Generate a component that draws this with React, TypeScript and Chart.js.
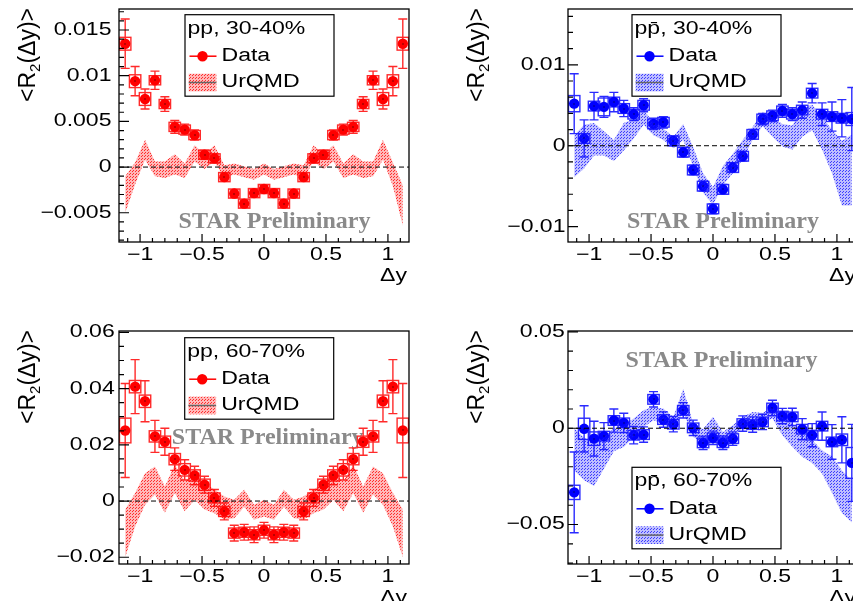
import React, { useEffect, useRef } from "react";
import { Chart, registerables } from "chart.js";

Chart.register(...registerables);

// ---------- data ----------
const DY_BINS = [-1.12, -1.04, -0.96, -0.88, -0.8, -0.72, -0.64, -0.56, -0.48, -0.4, -0.32, -0.24, -0.16, -0.08, 0, 0.08, 0.16, 0.24, 0.32, 0.4, 0.48, 0.56, 0.64, 0.72, 0.8, 0.88, 0.96, 1.04, 1.12];

const X_TICKS = [-1, -0.5, 0, 0.5, 1];
const X_TICK_LABELS = ["−1", "−0.5", "0", "0.5", "1"];

// p p, 30-40%
const PP30_DATA = [0.0135, 0.0094, 0.00745, 0.0095, 0.0069, 0.0044, 0.0041, 0.0035, 0.00135, 0.00095, -0.0011, -0.0029, -0.004, -0.00285, -0.0024, -0.00285, -0.004, -0.0029, -0.0011, 0.00095, 0.00135, 0.0035, 0.0041, 0.0044, 0.0069, 0.0095, 0.00745, 0.0094, 0.0135];
const PP30_STAT = [0.0027, 0.0016, 0.0011, 0.001, 0.0008, 0.0007, 0.0006, 0.00055, 0.0005, 0.0005, 0.00045, 0.0004, 0.0004, 0.0004, 0.0004, 0.0004, 0.0004, 0.0004, 0.00045, 0.0005, 0.0005, 0.00055, 0.0006, 0.0007, 0.0008, 0.001, 0.0011, 0.0016, 0.0027];
const PP30_SYS = [0.0007, 0.0007, 0.0007, 0.0005, 0.0005, 0.0005, 0.0005, 0.0005, 0.0005, 0.0005, 0.0005, 0.0005, 0.0005, 0.0005, 0.0005, 0.0005, 0.0005, 0.0005, 0.0005, 0.0005, 0.0005, 0.0005, 0.0005, 0.0005, 0.0005, 0.0005, 0.0007, 0.0007, 0.0007];
const PP30_URQMD = [-0.003, -0.0007, 0.0019, -0.0002, -0.0003, 0.0003, -0.0004, 0.0015, 0.0006, 0.0015, -0.0005, -0.0002, -0.0005, -0.0008, -0.0002, -0.0008, -0.0005, -0.0002, -0.0005, 0.0015, 0.0006, 0.0015, -0.0004, 0.0003, -0.0003, -0.0002, 0.0019, -0.0008, -0.0042];
const PP30_URQMD_ERR = [0.002, 0.0012, 0.0011, 0.0008, 0.0009, 0.0011, 0.0008, 0.0009, 0.0008, 0.0009, 0.0007, 0.0006, 0.0006, 0.0006, 0.0006, 0.0006, 0.0006, 0.0006, 0.0007, 0.0009, 0.0008, 0.0009, 0.0008, 0.0011, 0.0009, 0.0008, 0.0011, 0.0013, 0.0022];
const PP30_Y_TICKS = [-0.005, 0, 0.005, 0.01, 0.015];
const PP30_Y_LABELS = ["−0.005", "0", "0.005", "0.01", "0.015"];

// p pbar, 30-40%
const PPB30_DATA = [0.0052, 0.0009, 0.0049, 0.0048, 0.0054, 0.0046, 0.0039, 0.005, 0.0027, 0.0029, 0.0006, -0.0008, -0.003, -0.005, -0.0078, -0.0054, -0.0027, -0.0013, 0.0014, 0.0033, 0.0037, 0.0043, 0.0039, 0.0044, 0.0065, 0.0039, 0.0036, 0.0034, 0.0033];
const PPB30_STAT = [0.0037, 0.0023, 0.0017, 0.0013, 0.0012, 0.001, 0.0008, 0.0008, 0.0007, 0.0007, 0.0006, 0.0006, 0.0006, 0.0006, 0.0006, 0.0006, 0.0006, 0.0006, 0.0006, 0.0007, 0.0007, 0.0008, 0.0008, 0.001, 0.0012, 0.0014, 0.0018, 0.0023, 0.0039];
const PPB30_SYS = [0.001, 0.0006, 0.0006, 0.0011, 0.0006, 0.0006, 0.0006, 0.0006, 0.0006, 0.0006, 0.0006, 0.0006, 0.0006, 0.0006, 0.0006, 0.0006, 0.0006, 0.0006, 0.0006, 0.0006, 0.0006, 0.0006, 0.0006, 0.0006, 0.0006, 0.0006, 0.0006, 0.0006, 0.0008];
const PPB30_URQMD = [-0.0013, -0.0001, 0.0008, 0.0003, -0.0006, 0.0011, 0.0021, 0.0035, 0.0021, 0.0014, 0.0004, 0.0017, -0.0014, -0.0046, -0.0062, -0.0037, -0.0022, -0.0005, 0.0015, 0.0033, 0.0023, 0.0013, 0.001, 0.0028, 0.0035, 0.0015, -0.0007, -0.0034, -0.003];
const PPB30_URQMD_ERR = [0.0026, 0.0027, 0.002, 0.0015, 0.0013, 0.0017, 0.0012, 0.0009, 0.0008, 0.0007, 0.0007, 0.001, 0.0012, 0.0012, 0.0011, 0.0012, 0.0012, 0.0012, 0.0008, 0.0009, 0.0012, 0.0014, 0.0015, 0.0017, 0.0016, 0.002, 0.0027, 0.004, 0.0044];
const PPB30_Y_TICKS = [-0.01, 0, 0.01];
const PPB30_Y_LABELS = ["−0.01", "0", "0.01"];

// p p, 60-70%
const PP60_DATA = [0.0251, 0.0407, 0.0355, 0.023, 0.0211, 0.0149, 0.0111, 0.0091, 0.0058, 0.0011, -0.0037, -0.0114, -0.0111, -0.012, -0.0104, -0.012, -0.0111, -0.0114, -0.0037, 0.0011, 0.0058, 0.0091, 0.0111, 0.0149, 0.0211, 0.023, 0.0355, 0.0407, 0.0251];
const PP60_STAT = [0.0167, 0.0096, 0.0073, 0.0057, 0.0048, 0.004, 0.0036, 0.0033, 0.003, 0.003, 0.003, 0.0028, 0.0028, 0.0028, 0.0028, 0.0028, 0.0028, 0.0028, 0.003, 0.003, 0.003, 0.0033, 0.0036, 0.004, 0.0048, 0.0057, 0.0073, 0.0096, 0.0167];
const PP60_SYS = [0.0044, 0.0022, 0.0022, 0.002, 0.002, 0.002, 0.0022, 0.002, 0.002, 0.0018, 0.0018, 0.0018, 0.0018, 0.0018, 0.0018, 0.0018, 0.0018, 0.0018, 0.0018, 0.0018, 0.002, 0.002, 0.0022, 0.002, 0.002, 0.002, 0.0022, 0.0022, 0.0044];
const PP60_URQMD = [-0.0115, -0.0031, 0.0043, 0.0073, 0.0005, 0.0079, 0.0017, 0.0052, 0.0017, -0.0001, -0.0025, -0.0028, 0.001, -0.004, -0.0025, -0.004, 0.001, -0.0028, -0.0025, -0.0001, 0.0017, 0.0052, 0.0017, 0.0079, 0.0005, 0.0073, 0.0043, -0.0031, -0.0115];
const PP60_URQMD_ERR = [0.0085, 0.006, 0.0056, 0.005, 0.0047, 0.005, 0.0053, 0.0047, 0.0047, 0.0042, 0.0041, 0.0033, 0.003, 0.0027, 0.003, 0.0027, 0.003, 0.0033, 0.0041, 0.0042, 0.0047, 0.0047, 0.0053, 0.005, 0.0047, 0.005, 0.0056, 0.006, 0.0085];
const PP60_Y_TICKS = [-0.02, 0, 0.02, 0.04, 0.06];
const PP60_Y_LABELS = ["−0.02", "0", "0.02", "0.04", "0.06"];

// p pbar, 60-70%
const PPB60_DATA = [-0.0333, -0.0003, -0.0054, -0.0041, 0.004, 0.0028, -0.0036, -0.0033, 0.015, 0.0045, 0.0021, 0.0093, 0.0002, -0.0076, -0.005, -0.0075, -0.0054, 0.0024, 0.0019, 0.0033, 0.0105, 0.0063, 0.0059, -0.0005, -0.0036, 0.0011, -0.0071, -0.006, -0.018];
const PPB60_STAT = [0.021, 0.012, 0.009, 0.007, 0.006, 0.005, 0.0045, 0.004, 0.004, 0.004, 0.004, 0.004, 0.004, 0.0035, 0.0035, 0.0035, 0.0035, 0.004, 0.004, 0.004, 0.004, 0.004, 0.0045, 0.0055, 0.006, 0.0073, 0.009, 0.012, 0.02];
const PPB60_SYS = [0.0037, 0.0055, 0.0035, 0.0025, 0.0025, 0.0025, 0.0025, 0.0025, 0.0025, 0.0025, 0.0025, 0.0025, 0.0025, 0.0025, 0.0025, 0.0025, 0.0025, 0.0025, 0.0025, 0.0025, 0.0025, 0.0025, 0.0025, 0.0025, 0.0025, 0.0025, 0.0025, 0.003, 0.008];
const PPB60_URQMD = [-0.011, -0.016, -0.019, -0.013, -0.006, -0.004, 0.0003, 0.005, 0.0076, 0.0063, 0.0024, 0.0145, -0.001, -0.004, 0.0015, -0.005, -0.0019, 0.0033, 0.0054, 0.0053, 0.008, 0.001, -0.0036, -0.0088, -0.012, -0.0175, -0.024, -0.033, -0.038];
const PPB60_URQMD_ERR = [0.011, 0.011, 0.011, 0.008, 0.006, 0.0057, 0.0048, 0.0043, 0.0035, 0.0038, 0.0035, 0.006, 0.0035, 0.0035, 0.0045, 0.003, 0.0035, 0.0026, 0.003, 0.0026, 0.003, 0.0047, 0.006, 0.006, 0.006, 0.006, 0.0095, 0.011, 0.011];
const PPB60_Y_TICKS = [-0.05, 0, 0.05];
const PPB60_Y_LABELS = ["−0.05", "0", "0.05"];

// ---------- styling / layout ----------
const SANS = '"Liberation Sans", Arial, Helvetica, sans-serif';
const SERIF = '"Liberation Serif", "Times New Roman", serif';
const STRETCH = 1.28;
const CW = 430;
const CH = 300;

type PanelCfg = {
  key: string;
  left: number;
  top: number;
  header: string;
  color: string;
  barColor: string;
  rgb: string;
  values: number[];
  stat: number[];
  sys: number[];
  model: number[];
  modelErr: number[];
  yMin: number;
  yMax: number;
  yTicks: number[];
  yLabels: string[];
  yMinor: number;
  labelGap: number;
  legend: [number, number];
  star: [number, number];
};

const PANELS: PanelCfg[] = [
  {
    key: "pp30", left: 0, top: 0, header: "pp, 30-40%", color: "#ff0000", barColor: "#ff2a2a", rgb: "255,0,0",
    values: PP30_DATA, stat: PP30_STAT, sys: PP30_SYS, model: PP30_URQMD, modelErr: PP30_URQMD_ERR,
    yMin: -0.0082, yMax: 0.0173, yTicks: PP30_Y_TICKS, yLabels: PP30_Y_LABELS, yMinor: 0.001,
    labelGap: 7.5, legend: [66, 5.7], star: [155.5, 212.4],
  },
  {
    key: "ppb30", left: 449, top: 0, header: "pp\u0304, 30-40%", color: "#0000ff", barColor: "#2a2aff", rgb: "20,20,255",
    values: PPB30_DATA, stat: PPB30_STAT, sys: PPB30_SYS, model: PPB30_URQMD, modelErr: PPB30_URQMD_ERR,
    yMin: -0.0119, yMax: 0.0169, yTicks: PPB30_Y_TICKS, yLabels: PPB30_Y_LABELS, yMinor: 0.002,
    labelGap: 2.5, legend: [64, 5.7], star: [155, 212.7],
  },
  {
    key: "pp60", left: 0, top: 322, header: "pp, 60-70%", color: "#ff0000", barColor: "#ff2a2a", rgb: "255,0,0",
    values: PP60_DATA, stat: PP60_STAT, sys: PP60_SYS, model: PP60_URQMD, modelErr: PP60_URQMD_ERR,
    yMin: -0.0224, yMax: 0.0605, yTicks: PP60_Y_TICKS, yLabels: PP60_Y_LABELS, yMinor: 0.005,
    labelGap: 4.3, legend: [65.7, 6.7], star: [148.7, 107.2],
  },
  {
    key: "ppb60", left: 449, top: 322, header: "pp\u0304, 60-70%", color: "#0000ff", barColor: "#2a2aff", rgb: "20,20,255",
    values: PPB60_DATA, stat: PPB60_STAT, sys: PPB60_SYS, model: PPB60_URQMD, modelErr: PPB60_URQMD_ERR,
    yMin: -0.0705, yMax: 0.0505, yTicks: PPB60_Y_TICKS, yLabels: PPB60_Y_LABELS, yMinor: 0.01,
    labelGap: 3.3, legend: [64, 136.3], star: [153.5, 29.3],
  },
];

function makePattern(ctx: CanvasRenderingContext2D, rgb: string) {
  const c = document.createElement("canvas");
  c.width = 3;
  c.height = 3;
  const g = c.getContext("2d")!;
  g.fillStyle = `rgba(${rgb},0.28)`;
  g.fillRect(0, 0, 3, 3);
  g.fillStyle = `rgba(${rgb},0.75)`;
  g.fillRect(0, 0, 1, 1);
  g.fillRect(1, 2, 1, 1);
  return ctx.createPattern(c, "repeat")!;
}

function drawText(
  ctx: CanvasRenderingContext2D, text: string, x: number, y: number,
  font: string, align: CanvasTextAlign, baseline: CanvasTextBaseline, sx: number, color = "#000"
) {
  ctx.save();
  ctx.translate(x, y);
  ctx.scale(sx, 1);
  ctx.font = font;
  ctx.fillStyle = color;
  ctx.textAlign = align;
  ctx.textBaseline = baseline;
  ctx.fillText(text, 0, 0);
  ctx.restore();
}

function minorValues(min: number, max: number, step: number, majorEvery: number) {
  const out: number[] = [];
  const k0 = Math.ceil(min / step - 1e-9);
  const k1 = Math.floor(max / step + 1e-9);
  for (let k = k0; k <= k1; k++) {
    if (k % majorEvery !== 0) out.push(k * step);
  }
  return out;
}

function makePlugin(p: PanelCfg, pattern: CanvasPattern) {
  return {
    id: "root_" + p.key,
    beforeDatasetsDraw(chart: any) {
      const { ctx, chartArea: a } = chart;
      ctx.save();
      ctx.fillStyle = "#8a8a8a";
      ctx.font = `bold 24px ${SERIF}`;
      ctx.textAlign = "center";
      ctx.textBaseline = "middle";
      ctx.fillText("STAR Preliminary", a.left + p.star[0], a.top + p.star[1]);
      ctx.restore();
    },
    afterDatasetDraw(chart: any, args: any) {
      if (args.index !== 1) return;
      const { ctx, chartArea: a } = chart;
      const y0 = chart.scales.y.getPixelForValue(0);
      ctx.save();
      ctx.strokeStyle = "#000";
      ctx.lineWidth = 1;
      ctx.setLineDash([5, 3]);
      ctx.beginPath();
      ctx.moveTo(a.left, y0);
      ctx.lineTo(a.right, y0);
      ctx.stroke();
      ctx.restore();
    },
    beforeDatasetDraw(chart: any, args: any) {
      if (args.index !== 2) return;
      const { ctx, chartArea: a } = chart;
      const xs = chart.scales.x;
      const ys = chart.scales.y;
      ctx.save();
      ctx.beginPath();
      ctx.rect(a.left, a.top, a.right - a.left, a.bottom - a.top);
      ctx.clip();
      ctx.strokeStyle = p.barColor;
      ctx.lineWidth = 1.4;
      DY_BINS.forEach((x, i) => {
        const v = p.values[i];
        const px = xs.getPixelForValue(x);
        // systematic box
        const bx0 = xs.getPixelForValue(x - 0.046);
        const bx1 = xs.getPixelForValue(x + 0.046);
        const by0 = ys.getPixelForValue(v + p.sys[i]);
        const by1 = ys.getPixelForValue(v - p.sys[i]);
        ctx.strokeRect(bx0, by0, bx1 - bx0, by1 - by0);
        // stat error bar
        const t = ys.getPixelForValue(v + p.stat[i]);
        const b = ys.getPixelForValue(v - p.stat[i]);
        ctx.beginPath();
        ctx.moveTo(px, t);
        ctx.lineTo(px, b);
        ctx.moveTo(px - 4.5, t);
        ctx.lineTo(px + 4.5, t);
        ctx.moveTo(px - 4.5, b);
        ctx.lineTo(px + 4.5, b);
        ctx.stroke();
      });
      ctx.restore();
    },
    afterDatasetsDraw(chart: any) {
      const { ctx } = chart;
      const xs = chart.scales.x;
      const ys = chart.scales.y;
      ctx.save();
      ctx.fillStyle = "#000";
      DY_BINS.forEach((x, i) => {
        const px = xs.getPixelForValue(x);
        const py = ys.getPixelForValue(p.values[i]);
        ctx.fillRect(Math.round(px) - 0.5, Math.round(py) - 0.5, 1, 1);
      });
      ctx.restore();
    },
    afterDraw(chart: any) {
      const { ctx, chartArea: a } = chart;
      const xs = chart.scales.x;
      const ys = chart.scales.y;
      const font = `18px ${SANS}`;

      // frame
      ctx.save();
      ctx.strokeStyle = "#000";
      ctx.lineWidth = 1.3;
      ctx.strokeRect(a.left, a.top, a.right - a.left, a.bottom - a.top);

      // x ticks
      ctx.lineWidth = 1.2;
      ctx.beginPath();
      X_TICKS.forEach((v) => {
        const px = xs.getPixelForValue(v);
        ctx.moveTo(px, a.bottom);
        ctx.lineTo(px, a.bottom - 8);
      });
      minorValues(xs.min, xs.max, 0.1, 5).forEach((v) => {
        const px = xs.getPixelForValue(v);
        ctx.moveTo(px, a.bottom);
        ctx.lineTo(px, a.bottom - 4);
      });
      // y ticks
      p.yTicks.forEach((v) => {
        const py = ys.getPixelForValue(v);
        ctx.moveTo(a.left, py);
        ctx.lineTo(a.left + 10, py);
      });
      const majorStep = p.yTicks[1] - p.yTicks[0];
      minorValues(ys.min, ys.max, p.yMinor, Math.round(majorStep / p.yMinor)).forEach((v) => {
        const py = ys.getPixelForValue(v);
        ctx.moveTo(a.left, py);
        ctx.lineTo(a.left + 5, py);
      });
      ctx.stroke();
      ctx.restore();

      // tick labels
      X_TICKS.forEach((v, i) => {
        drawText(ctx, X_TICK_LABELS[i], xs.getPixelForValue(v), a.bottom + 13.5, font, "center", "middle", STRETCH);
      });
      p.yTicks.forEach((v, i) => {
        drawText(ctx, p.yLabels[i], a.left - p.labelGap, ys.getPixelForValue(v), font, "right", "middle", STRETCH);
      });

      // x title
      drawText(ctx, "Δy", a.right - 2, a.bottom + 34, font, "right", "middle", STRETCH);

      // y title <R_2(Δy)>
      ctx.save();
      ctx.translate(a.left - 92, a.top - 1);
      ctx.rotate(-Math.PI / 2);
      const big = `23px ${SANS}`;
      const small = `15px ${SANS}`;
      ctx.font = big;
      const w1 = ctx.measureText("<R").width;
      const w3 = ctx.measureText("(Δy)>").width;
      ctx.font = small;
      const w2 = ctx.measureText("2").width;
      const total = w1 + w2 + w3;
      ctx.fillStyle = "#000";
      ctx.textAlign = "left";
      ctx.textBaseline = "alphabetic";
      ctx.font = big;
      ctx.fillText("<R", -total, 8);
      ctx.font = small;
      ctx.fillText("2", -total + w1, 13);
      ctx.font = big;
      ctx.fillText("(Δy)>", -total + w1 + w2, 8);
      ctx.restore();

      // legend
      const lx = a.left + p.legend[0];
      const ly = a.top + p.legend[1];
      ctx.save();
      ctx.fillStyle = "#fff";
      ctx.fillRect(lx, ly, 149, 81.5);
      ctx.strokeStyle = "#000";
      ctx.lineWidth = 1.2;
      ctx.strokeRect(lx, ly, 149, 81.5);
      ctx.restore();
      drawText(ctx, p.header, lx + 2.5, ly + 14, font, "left", "middle", STRETCH);
      // Data entry
      ctx.save();
      ctx.strokeStyle = p.color;
      ctx.lineWidth = 1.5;
      ctx.beginPath();
      ctx.moveTo(lx + 4.5, ly + 41.5);
      ctx.lineTo(lx + 31.5, ly + 41.5);
      ctx.stroke();
      ctx.fillStyle = p.color;
      ctx.beginPath();
      ctx.arc(lx + 17.5, ly + 41.5, 5.2, 0, Math.PI * 2);
      ctx.fill();
      ctx.restore();
      drawText(ctx, "Data", lx + 36.5, ly + 41.5, font, "left", "middle", STRETCH);
      // UrQMD entry
      ctx.save();
      ctx.fillStyle = pattern;
      ctx.fillRect(lx + 3.7, ly + 59, 27.7, 17.7);
      ctx.strokeStyle = "#666";
      ctx.lineWidth = 1.5;
      ctx.beginPath();
      ctx.moveTo(lx + 3.7, ly + 67.8);
      ctx.lineTo(lx + 31.4, ly + 67.8);
      ctx.stroke();
      ctx.restore();
      drawText(ctx, "UrQMD", lx + 36.5, ly + 67.8, font, "left", "middle", STRETCH);
    },
  };
}

function Panel({ p }: { p: PanelCfg }) {
  const ref = useRef<HTMLCanvasElement>(null);
  useEffect(() => {
    const canvas = ref.current!;
    const ctx = canvas.getContext("2d")!;
    const pattern = makePattern(ctx, p.rgb);
    const chart = new Chart(canvas, {
      type: "line",
      data: {
        datasets: [
          {
            data: DY_BINS.map((x, i) => ({ x, y: p.model[i] - p.modelErr[i] })),
            borderWidth: 0,
            borderColor: "rgba(0,0,0,0)",
            pointRadius: 0,
            fill: false,
            tension: 0,
          },
          {
            data: DY_BINS.map((x, i) => ({ x, y: p.model[i] + p.modelErr[i] })),
            borderWidth: 0,
            borderColor: "rgba(0,0,0,0)",
            backgroundColor: pattern as any,
            pointRadius: 0,
            fill: "-1",
            tension: 0,
          },
          {
            data: DY_BINS.map((x, i) => ({ x, y: p.values[i] })),
            showLine: false,
            pointRadius: 5.2,
            pointStyle: "circle",
            pointBackgroundColor: p.color,
            pointBorderColor: p.color,
            pointBorderWidth: 0,
            borderColor: p.color,
            fill: false,
          },
        ],
      } as any,
      options: {
        responsive: false,
        maintainAspectRatio: false,
        devicePixelRatio: 1,
        animation: false,
        events: [],
        layout: { padding: { left: 119, top: 9, right: CW - 409, bottom: CH - 242 } },
        plugins: { legend: { display: false }, tooltip: { enabled: false } },
        scales: {
          x: { type: "linear", min: -1.17, max: 1.17, display: false },
          y: { type: "linear", min: p.yMin, max: p.yMax, display: false },
        },
      } as any,
      plugins: [makePlugin(p, pattern) as any],
    });
    return () => chart.destroy();
  }, []);
  return (
    <canvas
      ref={ref}
      width={CW}
      height={CH}
      style={{ position: "absolute", left: p.left, top: p.top, width: `${CW}px`, height: `${CH}px` }}
    />
  );
}

export default function App() {
  return (
    <div
      style={{
        position: "absolute",
        left: 0,
        top: 0,
        width: 853,
        height: 601,
        overflow: "hidden",
        background: "#fff",
      }}
    >
      {PANELS.map((p) => (
        <Panel key={p.key} p={p} />
      ))}
    </div>
  );
}
